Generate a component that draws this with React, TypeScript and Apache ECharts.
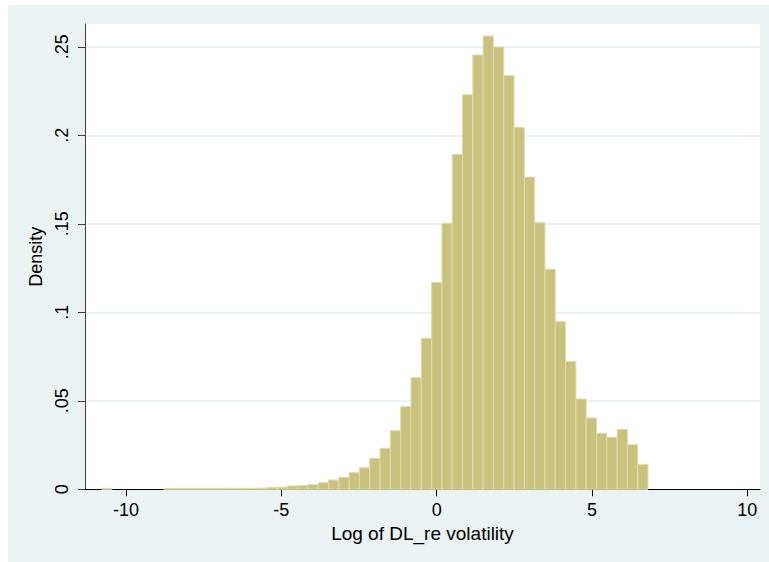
import React, { useEffect, useRef } from "react";
import * as echarts from "echarts";

// Histogram bins (Log of DL_re volatility)
const BIN_START = -10.78;
const BIN_WIDTH = 0.3318;
const densities = [
  0.0006, 0, 0, 0, 0, 0,
  0.0005, 0.0005, 0.0005, 0.0005, 0.0005, 0.0005, 0.0006, 0.0006, 0.0006, 0.0007,
  0.0011, 0.0012, 0.0019, 0.0021,
  0.0026, 0.0037, 0.0053, 0.0068, 0.0094, 0.0122,
  0.0175, 0.0232, 0.0331, 0.0467, 0.0631, 0.0853, 0.1169, 0.1503, 0.1893, 0.2229,
  0.2454, 0.2561, 0.2499, 0.2337, 0.2045, 0.1764, 0.1506, 0.1243, 0.0947, 0.0723,
  0.051, 0.0403, 0.0316, 0.0294, 0.0339, 0.0252, 0.0141,
];
const xTicks = [-10, -5, 0, 5, 10];
const yTicks = [0, 0.05, 0.1, 0.15, 0.2, 0.25];

const FONT = "'Liberation Sans', Arial, Helvetica, sans-serif";

export default function App() {
  const ref = useRef<HTMLDivElement>(null);
  useEffect(() => {
    if (!ref.current) return;
    const chart = echarts.init(ref.current, undefined, { renderer: "svg" });
    const data = densities.map((d, i) => [
      BIN_START + i * BIN_WIDTH,
      BIN_START + (i + 1) * BIN_WIDTH,
      d,
    ]);
    chart.setOption({
      animation: false,
      backgroundColor: "#ffffff",
      graphic: [
        {
          type: "rect",
          z: -10,
          silent: true,
          shape: { x: 8, y: 5, width: 761, height: 557 },
          style: { fill: "#eaf2f3" },
        },
        {
          type: "rect",
          z: -9,
          silent: true,
          shape: { x: 85, y: 24, width: 675, height: 465.3 },
          style: { fill: "#ffffff" },
        },
      ],
      grid: { left: 85, top: 24, right: 9, bottom: 72.7, containLabel: false },
      xAxis: {
        type: "value",
        min: -11.32,
        max: 10.41,
        name: "Log of DL_re volatility",
        nameLocation: "middle",
        nameGap: 30,
        nameTextStyle: { fontFamily: FONT, fontSize: 19, color: "#000" },
        axisLine: { show: true, onZero: false, lineStyle: { color: "#000", width: 1 } },
        axisTick: {
          show: true,
          length: 7,
          customValues: xTicks,
          lineStyle: { color: "#000", width: 1 },
        },
        axisLabel: {
          customValues: xTicks,
          margin: 12,
          fontFamily: FONT,
          fontSize: 18,
          color: "#000",
        },
        splitLine: { show: false },
      },
      yAxis: {
        type: "value",
        min: 0,
        max: 0.2629,
        name: "Density",
        nameLocation: "middle",
        nameGap: 33,
        nameRotate: 90,
        nameTextStyle: { fontFamily: FONT, fontSize: 18, color: "#000" },
        axisLine: { show: true, onZero: false, lineStyle: { color: "#404040", width: 1 } },
        axisTick: {
          show: true,
          length: 7,
          customValues: yTicks,
          lineStyle: { color: "#404040", width: 1 },
        },
        axisLabel: {
          customValues: yTicks,
          rotate: 90,
          margin: 14,
          fontFamily: FONT,
          fontSize: 18,
          color: "#000",
          formatter: (v: number) => (v === 0 ? "0" : String(+v.toFixed(2)).replace(/^0/, "")),
        },
        splitLine: {
          show: true,
          lineStyle: { color: "#e4eef2", width: 1.5 },
        },
      },
      series: [
        {
          type: "custom",
          renderItem: (params: any, api: any) => {
            const x0 = api.value(0);
            const x1 = api.value(1);
            const h = api.value(2);
            if (h <= 0) return null;
            const p0 = api.coord([x0, h]);
            const p1 = api.coord([x1, 0]);
            return {
              type: "rect",
              shape: { x: p0[0], y: p0[1], width: p1[0] - p0[0], height: p1[1] - p0[1] },
              style: { fill: "#c9c27f", stroke: "#e0dcaa", lineWidth: 1 },
            };
          },
          encode: { x: [0, 1], y: 2 },
          data,
        },
      ],
    });
    return () => chart.dispose();
  }, []);
  return (
    <div
      ref={ref}
      style={{ position: "absolute", left: 0, top: 0, width: 769, height: 562 }}
    />
  );
}
